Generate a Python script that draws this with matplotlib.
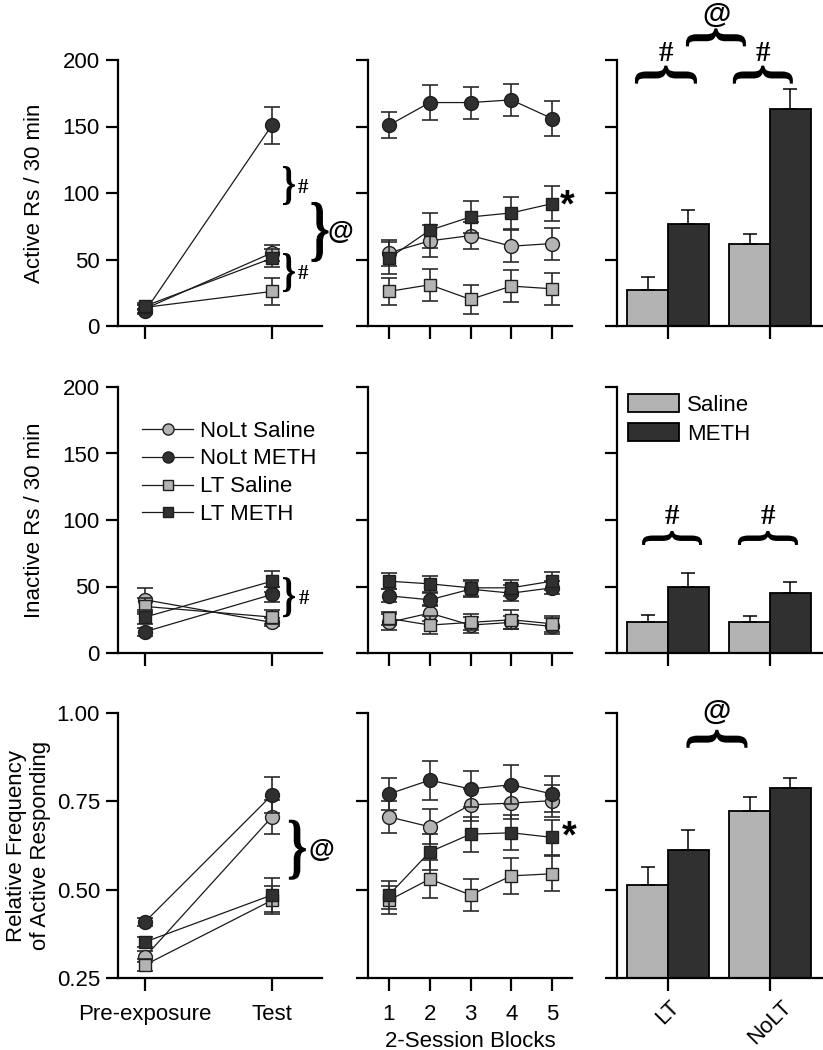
import numpy as np
import matplotlib
matplotlib.use('Agg')
import matplotlib.pyplot as plt
import matplotlib.transforms as mtransforms
from matplotlib.textpath import TextPath
from matplotlib.font_manager import FontProperties
from matplotlib.patches import PathPatch
from matplotlib.path import Path

plt.rcParams['font.family'] = ['Liberation Sans', 'DejaVu Sans']
plt.rcParams['font.size'] = 16

# ---- data ----
groups = ['NoLt Saline', 'NoLt METH', 'LT Saline', 'LT METH']
phases = ['Pre-exposure', 'Test']
blocks = [1, 2, 3, 4, 5]
bar_groups = ['LT', 'NoLT']

# active responses, per group: [pre-exposure, test]
active_phase = [[13, 55], [11, 151], [14, 26], [15, 51]]
active_phase_err = [[3, 6], [2, 14], [2, 10], [2, 7]]
active_blocks = [
    [55, 64, 68, 60, 62],
    [151, 168, 168, 170, 156],
    [26, 31, 20, 30, 28],
    [51, 72, 82, 85, 92],
]
active_blocks_err = [
    [10, 12, 10, 12, 12],
    [10, 13, 12, 12, 13],
    [10, 12, 11, 12, 12],
    [12, 13, 12, 12, 13],
]
active_saline = [27, 62]
active_saline_err = [10, 7.5]
active_meth = [77, 163]
active_meth_err = [10, 15]

# inactive responses
inactive_phase = [[40, 23], [16, 44], [35, 27], [27, 54]]
inactive_phase_err = [[9, 3], [3, 6], [6, 5], [5, 8]]
inactive_blocks = [
    [23, 30, 21, 23, 20],
    [43, 40, 48, 45, 49],
    [26, 21, 23, 25, 22],
    [54, 52, 49, 49, 54],
]
inactive_blocks_err = [
    [6, 6, 6, 5, 6],
    [5, 5, 6, 6, 5],
    [5, 7, 6, 7, 6],
    [6, 6, 6, 6, 7],
]
inactive_saline = [23, 23.5]
inactive_saline_err = [5.5, 4.5]
inactive_meth = [50, 45]
inactive_meth_err = [10.5, 8.5]

# relative frequency of active responding
relfreq_phase = [[0.31, 0.706], [0.409, 0.768], [0.287, 0.47], [0.352, 0.485]]
relfreq_phase_err = [[0.015, 0.048], [0.012, 0.05], [0.018, 0.04], [0.015, 0.048]]
relfreq_blocks = [
    [0.706, 0.678, 0.74, 0.745, 0.752],
    [0.771, 0.81, 0.785, 0.797, 0.771],
    [0.47, 0.53, 0.485, 0.539, 0.545],
    [0.485, 0.607, 0.657, 0.661, 0.648],
]
relfreq_blocks_err = [
    [0.046, 0.05, 0.045, 0.045, 0.045],
    [0.046, 0.055, 0.05, 0.055, 0.05],
    [0.04, 0.053, 0.045, 0.05, 0.05],
    [0.04, 0.05, 0.05, 0.05, 0.05],
]
relfreq_saline = [0.513, 0.723]
relfreq_saline_err = [0.052, 0.039]
relfreq_meth = [0.612, 0.788]
relfreq_meth_err = [0.058, 0.029]

# ---- styles ----
light = '#b3b3b3'
dark = '#303030'
fills = [light, dark, light, dark]
markers = ['o', 'o', 's', 's']
msizes = [10, 10, 8.5, 8.5]

W, H = 823, 1050
fig = plt.figure(figsize=(W / 100, H / 100), dpi=100)

col_x = [118, 368, 617]
col_w = [204, 204, 205]
row_top = [60, 387, 713]
row_h = [266, 266, 265]


def make_ax(r, c):
    ax = fig.add_axes([col_x[c] / W, 1 - (row_top[r] + row_h[r]) / H,
                       col_w[c] / W, row_h[r] / H])
    for s in ['top', 'right']:
        ax.spines[s].set_visible(False)
    for s in ['left', 'bottom']:
        ax.spines[s].set_linewidth(1.6)
    ax.tick_params(direction='out', length=9, width=1.6, labelsize=16, pad=4)
    return ax


def draw_lines(ax, x, vals, errs):
    for i in range(4):
        z = 3 + i
        ax.errorbar(x, vals[i], yerr=errs[i], fmt='none', ecolor='#2a2a2a',
                    elinewidth=1.2, capsize=5.5, capthick=1.2, zorder=z)
        ax.plot(x, vals[i], color='#1a1a1a', lw=0.9, marker=markers[i],
                ms=msizes[i], mfc=fills[i], mec='#1e1e1e', mew=1.0,
                label=groups[i], zorder=z + 0.5)


def draw_bars(ax, sal, sal_err, meth, meth_err, base=0):
    x = np.arange(len(bar_groups))
    w = 0.4
    ax.bar(x - w / 2, np.array(sal) - base, w, bottom=base, color=light,
           edgecolor='black', lw=1.3, label='Saline',
           yerr=[[0] * len(sal), sal_err],
           error_kw=dict(ecolor='black', elinewidth=1.1, capsize=5, capthick=1.1))
    ax.bar(x + w / 2, np.array(meth) - base, w, bottom=base, color=dark,
           edgecolor='black', lw=1.3, label='METH',
           yerr=[[0] * len(meth), meth_err],
           error_kw=dict(ecolor='black', elinewidth=1.1, capsize=5, capthick=1.1))
    ax.set_xticks(x)
    ax.set_xlim(-0.5, 1.51)


# brace glyph, normalised to a unit box so it can be stretched
brace_font = FontProperties(family='Liberation Serif', weight='bold')
_bp = TextPath((0, 0), '}', size=100, prop=brace_font)
_ext = _bp.get_extents()
brace_unit = Path((_bp.vertices - [_ext.x0 + _ext.width / 2, _ext.y0 + _ext.height / 2])
                  / [_ext.width, _ext.height], _bp.codes)


def brace(ax, x, y, length, thick, angle=0):
    tr = (mtransforms.Affine2D().scale(thick, length).rotate_deg(angle)
          + mtransforms.ScaledTranslation(x, y, ax.transData))
    p = PathPatch(brace_unit, transform=tr, fc='black', ec='none', clip_on=False)
    ax.add_artist(p)


def sym(ax, x, y, s, size=15, bold=False, serif=True):
    fam = ['Liberation Serif', 'DejaVu Serif'] if serif else ['Liberation Sans', 'DejaVu Sans']
    ax.text(x, y, s, ha='center', va='center', fontsize=size, family=fam,
            fontweight='bold' if bold else 'normal', clip_on=False)


xp = np.arange(len(phases))
axes = [[make_ax(r, c) for c in range(3)] for r in range(3)]

# ---- row 1: active ----
ax = axes[0][0]
draw_lines(ax, xp, active_phase, active_phase_err)
ax.set_ylim(0, 200)
ax.set_yticks([0, 50, 100, 150, 200])
ax.set_xticks(xp)
ax.set_xticklabels([])
ax.set_xlim(-0.213, 1.394)
ax.text(-0.41, 0.5, 'Active Rs / 30 min', transform=ax.transAxes, rotation=90,
        ha='center', va='center', fontsize=16)
brace(ax, 1.134, 105.6, 39, 12)
sym(ax, 1.245, 104, '#', 15, bold=True)
brace(ax, 1.134, 40.2, 39, 12)
sym(ax, 1.245, 39, '#', 15, bold=True)
brace(ax, 1.378, 70.7, 60, 17)
sym(ax, 1.535, 71, '@', 19, bold=True, serif=False)

ax = axes[0][1]
draw_lines(ax, blocks, active_blocks, active_blocks_err)
ax.set_ylim(0, 200)
ax.set_yticks([0, 50, 100, 150, 200])
ax.set_yticklabels([])
ax.set_xticks(blocks)
ax.set_xticklabels([])
ax.set_xlim(0.485, 5.49)
sym(ax, 5.38, 90, '*', 27, bold=True, serif=False)

ax = axes[0][2]
draw_bars(ax, active_saline, active_saline_err, active_meth, active_meth_err)
ax.set_ylim(0, 200)
ax.set_yticks([0, 50, 100, 150, 200])
ax.set_yticklabels([])
ax.set_xticklabels([])
brace(ax, -0.02, 189, 62, 18, 90)
sym(ax, -0.02, 205, '#', 21, bold=True)
brace(ax, 0.93, 189, 60, 18, 90)
sym(ax, 0.93, 205, '#', 21, bold=True)
brace(ax, 0.47, 217, 60, 18, 90)
sym(ax, 0.48, 234, '@', 21, bold=True, serif=False)

# ---- row 2: inactive ----
ax = axes[1][0]
draw_lines(ax, xp, inactive_phase, inactive_phase_err)
ax.set_ylim(0, 200)
ax.set_yticks([0, 50, 100, 150, 200])
ax.set_xticks(xp)
ax.set_xticklabels([])
ax.set_xlim(-0.213, 1.394)
ax.text(-0.41, 0.5, 'Inactive Rs / 30 min', transform=ax.transAxes, rotation=90,
        ha='center', va='center', fontsize=16)
brace(ax, 1.134, 42, 40, 12)
sym(ax, 1.25, 40.5, '#', 15, bold=True)
ax.legend(loc='upper left', bbox_to_anchor=(0.118, 0.874), frameon=False,
          borderpad=0, borderaxespad=0, handlelength=2.3, handletextpad=0.3,
          labelspacing=0.31, markerscale=0.8, fontsize=16)

ax = axes[1][1]
draw_lines(ax, blocks, inactive_blocks, inactive_blocks_err)
ax.set_ylim(0, 200)
ax.set_yticks([0, 50, 100, 150, 200])
ax.set_yticklabels([])
ax.set_xticks(blocks)
ax.set_xticklabels([])
ax.set_xlim(0.485, 5.49)

ax = axes[1][2]
draw_bars(ax, inactive_saline, inactive_saline_err, inactive_meth, inactive_meth_err)
ax.set_ylim(0, 200)
ax.set_yticks([0, 50, 100, 150, 200])
ax.set_yticklabels([])
ax.set_xticklabels([])
brace(ax, 0.04, 86.5, 60, 14, 90)
sym(ax, 0.04, 103, '#', 21, bold=True)
brace(ax, 0.98, 86.5, 60, 14, 90)
sym(ax, 0.98, 103, '#', 21, bold=True)
ax.legend(loc='upper left', bbox_to_anchor=(0.054, 0.975), frameon=False,
          borderpad=0, borderaxespad=0, handlelength=2.3, handleheight=0.9,
          handletextpad=0.35, labelspacing=0.33, fontsize=16)

# ---- row 3: relative frequency ----
ax = axes[2][0]
draw_lines(ax, xp, relfreq_phase, relfreq_phase_err)
ax.set_ylim(0.25, 1.0)
ax.set_yticks([0.25, 0.5, 0.75, 1.0])
ax.set_yticklabels(['0.25', '0.50', '0.75', '1.00'])
ax.set_xticks(xp)
ax.set_xticklabels(phases)
ax.tick_params(axis='x', pad=10)
ax.set_xlim(-0.213, 1.394)
ax.text(-0.44, 0.5, 'Relative Frequency\nof Active Responding', transform=ax.transAxes,
        rotation=90, ha='center', va='center', fontsize=16, linespacing=1.2)
brace(ax, 1.2, 0.613, 60, 17)
sym(ax, 1.39, 0.613, '@', 19, bold=True, serif=False)

ax = axes[2][1]
draw_lines(ax, blocks, relfreq_blocks, relfreq_blocks_err)
ax.set_ylim(0.25, 1.0)
ax.set_yticks([0.25, 0.5, 0.75, 1.0])
ax.set_yticklabels([])
ax.set_xticks(blocks)
ax.tick_params(axis='x', pad=10)
ax.set_xlim(0.485, 5.49)
ax.set_xlabel('2-Session Blocks', fontsize=16, labelpad=4)
sym(ax, 5.42, 0.648, '*', 27, bold=True, serif=False)

ax = axes[2][2]
draw_bars(ax, relfreq_saline, relfreq_saline_err, relfreq_meth, relfreq_meth_err, base=0.25)
ax.set_ylim(0.25, 1.0)
ax.set_yticks([0.25, 0.5, 0.75, 1.0])
ax.set_yticklabels([])
ax.set_xticklabels(bar_groups, rotation=45, ha='center')
ax.tick_params(axis='x', pad=4)
brace(ax, 0.48, 0.927, 61, 18, 90)
sym(ax, 0.48, 1.003, '@', 21, bold=True, serif=False)

fig.savefig('out.png', dpi=100)
